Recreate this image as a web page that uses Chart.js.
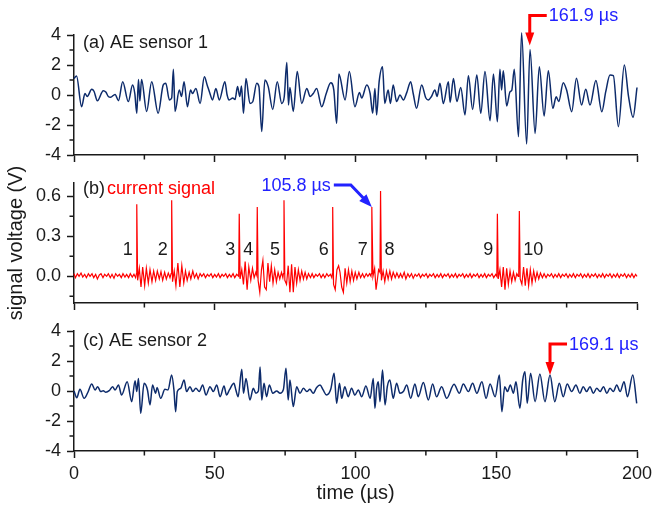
<!DOCTYPE html>
<html>
<head>
<meta charset="utf-8">
<script src="https://cdn.jsdelivr.net/npm/chart.js@4/dist/chart.umd.min.js"></script>
<style>
  body { margin: 0; background: #fff; }
  #wrap { position: relative; width: 668px; height: 505px; }
  canvas { position: absolute; left: 0; top: 0; }
</style>
</head>
<body>
<div id="wrap">
  <canvas id="panelA" width="668" height="505"></canvas>
  <canvas id="panelB" width="668" height="505"></canvas>
  <canvas id="panelC" width="668" height="505"></canvas>
</div>
<script>
// ---- data (time in µs, signal in V) ----
const timeTicks = [0, 50, 100, 150, 200];
const timeMinor = [25, 75, 125, 175];
const aeTicks = [-4, -2, 0, 2, 4];
const aeMinor = [-3, -1, 1, 3];
const currentTicks = [0, 0.3, 0.6];
const currentMinor = [-0.15, 0.15, 0.45];

// (a) AE sensor 1
const ae1 = [
  [0,1.1],[0.9,1.27],[2.7,-0.78],[3.9,0.1],[4.7,-0.1],[6.3,0.38],[7.1,0.25],[8.3,-0.38],[10.4,0.29],[11.3,0.2],
  [12.2,-0.1],[13.0,-0.15],[14.6,0.04],[15.8,-0.38],[17.3,0.89],[19.3,-0.44],[20.8,0.67],[21.6,0.1],[22.3,-1.22],[22.9,1.04],
  [23.4,-0.4],[24.0,1.04],[25.8,-1.1],[27.6,0.89],[29.9,-1.22],[31.7,0.67],[32.6,0.78],[33.9,-0.33],[34.7,-0.2],[35.3,1.71],
  [35.9,-1.1],[37.4,0.33],[38.2,-0.1],[39.1,0.89],[40.3,-0.78],[41.4,0.33],[42.1,0.1],[43.3,0.44],[44.8,-0.56],[46.3,1.22],
  [47.3,0.67],[48.3,0.1],[49.2,-0.33],[50.4,0.44],[51.6,-0.33],[53.6,0.89],[54.4,0.0],[55.1,-0.33],[56.4,-0.2],[57.2,-0.3],
  [58.1,0.56],[58.9,-0.1],[59.5,0.6],[60.2,-1.22],[61.1,1.1],[62.5,-0.56],[63.5,-0.45],[64.9,0.78],[65.7,0.56],[66.7,-2.44],
  [67.8,1.0],[69.0,0.56],[70.6,-0.96],[72.2,0.89],[73.8,-0.56],[74.7,-0.1],[75.6,2.16],[76.2,-0.67],[76.7,0.5],[77.9,-1.1],
  [79.3,1.56],[80.9,-0.56],[82.7,0.44],[83.9,-0.1],[85.0,0.1],[86.2,0.44],[88.0,-0.78],[89.6,0.1],[91.2,0.82],[92.3,0.33],
  [93.3,-1.89],[94.1,1.4],[96.3,-0.33],[97.8,1.56],[99.8,-0.78],[101.4,0.16],[102.2,-0.2],[104.0,0.67],[105.2,0.1],[106.1,-1.22],
  [106.9,0.44],[107.5,-1.33],[108.4,0.89],[109.6,1.89],[110.4,-0.56],[111.6,0.33],[112.4,-0.56],[113.4,0.67],[114.6,-0.44],[115.8,0.0],
  [117.0,-0.33],[118.2,0.16],[119.6,0.89],[120.5,0.1],[121.7,-0.89],[123.5,0.67],[125.0,-0.2],[125.9,-0.33],[127.0,-0.1],[128.2,0.33],
  [129.0,-0.1],[130.0,0.78],[131.2,-0.56],[133.0,0.89],[133.6,-0.5],[134.8,1.1],[136.0,-0.44],[137.4,0.5],[138.9,-1.33],[140.1,1.29],
  [141.6,-0.96],[143.1,1.33],[144.5,-1.22],[146.0,1.56],[147.8,-1.71],[149.0,1.4],[150.4,-1.78],[151.3,1.71],[151.9,0.33],[152.5,1.62],
  [153.7,-0.73],[154.9,0.22],[155.5,0.3],[156.4,1.71],[157.9,-2.78],[159.0,4.15],[160.8,-3.27],[162.0,3.04],[163.8,-2.56],[165.3,1.89],
  [167.0,-1.4],[168.5,1.62],[170.1,-0.89],[171.3,-0.11],[172.2,-0.44],[173.8,0.82],[175.0,0.33],[176.8,-1.11],[178.5,1.11],[180.3,-0.67],
  [181.8,0.38],[183.3,-0.67],[185.4,0.96],[187.5,-1.11],[188.9,0.22],[190.4,1.33],[191.6,1.29],[193.4,-2.11],[195.5,2.0],[197.0,-0.11],
  [198.6,-1.49],[200,0.5]
];

// (b) current signal
const current = [
  [0,0.02],[0.5,-0.01],[1.2,0.02],[1.8,0.0],[2.5,0.025],[3.1,-0.005],[3.8,0.015],[4.4,-0.01],[5.1,0.02],[5.7,0.0],
  [6.4,0.02],[7.0,-0.01],[7.7,0.015],[8.3,-0.02],[9.0,0.01],[9.6,0.02],[10.3,-0.01],[10.9,0.015],[11.6,0.0],[12.2,0.02],
  [12.9,-0.01],[13.5,0.015],[14.2,-0.015],[14.8,0.02],[15.5,0.0],[16.1,0.015],[16.8,-0.01],[17.4,0.02],[18.1,-0.005],[18.7,0.015],
  [19.4,-0.01],[20.0,0.02],[20.7,-0.005],[21.3,0.015],[21.9,-0.01],
  [22.2,0.02],[22.3,0.54],[22.6,-0.03],[23.2,0.06],[23.8,-0.08],[24.4,0.07],[25.1,-0.07],[25.7,0.06],[26.4,-0.05],[27.0,0.05],
  [27.7,-0.04],[28.3,0.04],[29.0,-0.03],[29.6,0.04],[30.3,-0.02],[30.9,0.035],[31.5,-0.03],[32.2,0.03],[32.8,-0.02],[33.5,0.025],[34.1,-0.01],
  [34.5,0.02],[34.7,0.57],[35.0,-0.04],[35.6,0.04],[36.2,-0.07],[36.9,0.1],[37.6,-0.08],[38.3,0.08],[39.0,-0.05],[39.6,0.04],
  [40.2,-0.03],[40.9,0.03],[41.5,-0.02],[42.2,0.04],[42.8,-0.01],[43.5,0.02],[44.1,-0.02],[44.8,0.02],[45.4,0.0],[46.1,0.02],
  [46.7,-0.01],[47.4,0.015],[48.0,0.0],[48.7,0.02],[49.3,-0.01],[50.0,0.015],[50.6,-0.005],[51.3,0.02],[51.9,-0.01],[52.6,0.015],
  [53.2,0.0],[53.9,0.02],[54.5,-0.01],[55.2,0.015],[55.8,-0.005],[56.5,0.02],[57.1,-0.01],[57.8,0.015],
  [58.5,0.0],[58.7,0.47],[59.0,-0.02],[59.6,0.05],[60.2,-0.06],[60.8,0.11],[61.5,-0.1],[62.1,0.07],[62.8,-0.03],[63.4,0.06],[64.0,-0.01],[64.6,0.03],
  [64.9,0.01],[65.1,0.52],[65.4,-0.03],[66.0,-0.12],[66.6,0.05],[67.1,0.12],[67.7,-0.08],[68.3,-0.1],[68.9,0.1],[69.5,-0.04],
  [70.1,0.08],[70.7,-0.05],[71.3,0.05],[71.9,-0.04],[72.5,0.03],[73.1,-0.02],[73.7,0.03],[74.2,-0.01],
  [74.4,0.02],[74.6,0.57],[74.9,-0.03],[75.5,-0.06],[76.1,0.08],[76.7,-0.12],[77.3,0.09],[77.9,-0.12],[78.5,0.07],[79.1,-0.05],
  [79.7,0.05],[80.3,-0.03],[80.9,0.04],[81.5,-0.02],[82.1,0.03],[82.7,-0.02],[83.3,0.02],[84.0,-0.01],[84.6,0.02],[85.2,-0.01],
  [85.9,0.015],[86.5,0.0],[87.2,0.02],[87.8,-0.01],[88.5,0.015],[89.1,-0.01],[89.8,0.02],[90.4,0.0],[91.1,0.015],[91.6,-0.01],
  [91.8,0.02],[91.9,0.52],[92.2,-0.06],[92.8,-0.1],[93.4,0.05],[94.0,0.08],[94.5,0.03],[95.1,-0.08],[95.7,-0.12],[96.3,0.06],
  [96.9,-0.05],[97.5,0.05],[98.1,-0.04],[98.7,0.04],[99.3,-0.03],[99.9,0.03],[100.5,-0.02],[101.2,0.03],[101.8,-0.01],[102.5,0.02],
  [103.1,-0.01],[103.8,0.02],[104.4,0.0],[105.0,0.02],[105.5,0.0],
  [105.6,0.02],[105.8,0.52],[106.2,0.0],[106.8,0.06],[107.3,-0.1],[107.8,-0.02],[108.2,0.05],
  [108.7,0.03],[108.9,0.64],[109.2,-0.03],[109.8,0.04],[110.4,-0.04],[111.0,0.04],[111.6,-0.02],[112.2,0.04],[112.8,-0.02],[113.4,0.03],
  [114.1,-0.01],[114.7,0.025],[115.4,-0.01],[116.0,0.02],[116.6,-0.01],[117.3,0.03],[117.9,-0.02],[118.6,0.02],[119.2,-0.005],[119.9,0.02],
  [120.5,-0.015],[121.2,0.015],[121.8,0.0],[122.5,0.02],[123.1,-0.01],[123.8,0.015],[124.4,0.0],[125.1,0.02],[125.7,-0.01],[126.4,0.015],
  [127.0,0.0],[127.7,0.02],[128.3,-0.01],[129.0,0.015],[129.6,-0.005],[130.3,0.02],[130.9,-0.01],[131.6,0.015],[132.2,0.0],[132.9,0.02],
  [133.5,-0.01],[134.2,0.015],[134.8,-0.005],[135.5,0.02],[136.1,-0.01],[136.8,0.015],[137.4,0.0],[138.1,0.02],[138.7,-0.01],[139.4,0.015],
  [140.0,-0.005],[140.7,0.02],[141.3,-0.01],[142.0,0.015],[142.6,0.0],[143.3,0.02],[143.9,-0.01],[144.6,0.015],[145.2,-0.005],[145.9,0.02],
  [146.5,-0.01],[147.2,0.015],[147.8,0.0],[148.5,0.02],[149.1,-0.01],[149.8,0.015],
  [150.2,0.0],[150.4,0.47],[150.7,-0.02],[151.3,0.05],[151.9,-0.08],[152.5,0.07],[153.1,-0.1],[153.7,0.06],[154.3,-0.06],[154.9,0.04],
  [155.5,-0.04],[156.1,0.03],[156.7,-0.03],[157.3,0.02],[157.8,0.0],
  [158.0,0.02],[158.2,0.49],[158.5,-0.02],[159.1,-0.06],[159.7,0.07],[160.3,-0.07],[160.9,0.06],[161.5,-0.07],[162.1,0.05],[162.7,-0.05],
  [163.3,0.04],[163.9,-0.03],[164.5,0.03],[165.1,-0.02],[165.7,0.025],[166.4,-0.01],[167.0,0.02],[167.7,-0.01],[168.3,0.015],[169.0,0.0],
  [169.6,0.02],[170.3,-0.01],[170.9,0.015],[171.6,-0.005],[172.2,0.02],[172.9,-0.01],[173.5,0.015],[174.2,0.0],[174.8,0.02],[175.5,-0.01],
  [176.1,0.015],[176.8,-0.005],[177.4,0.02],[178.1,-0.01],[178.7,0.015],[179.4,0.0],[180.0,0.02],[180.7,-0.01],[181.3,0.015],[182.0,-0.005],
  [182.6,0.02],[183.3,-0.01],[183.9,0.015],[184.6,0.0],[185.2,0.02],[185.9,-0.01],[186.5,0.015],[187.2,-0.005],[187.8,0.02],[188.5,-0.01],
  [189.1,0.015],[189.8,0.0],[190.4,0.02],[191.1,-0.01],[191.7,0.015],[192.4,-0.005],[193.0,0.02],[193.7,-0.01],[194.3,0.015],[195.0,0.0],
  [195.6,0.02],[196.3,-0.01],[196.9,0.015],[197.6,-0.005],[198.2,0.02],[198.9,-0.01],[199.5,0.015],[200,0.0]
];

// (c) AE sensor 2
const ae2 = [
  [0,0.0],[1.0,-0.45],[2.1,0.11],[3.6,-0.49],[4.9,-0.1],[6.3,0.47],[7.5,0.07],[8.4,0.29],[9.5,-0.04],[10.4,0.02],
  [11.3,-0.08],[12.5,0.02],[13.7,0.29],[14.6,0.07],[15.8,0.4],[16.9,-0.27],[18.9,0.62],[20.5,-0.71],[21.7,0.69],[22.3,-0.04],
  [22.9,0.84],[23.7,-1.49],[24.9,0.51],[26.1,0.07],[27.0,-0.93],[27.9,0.4],[29.0,-0.15],[29.5,0.24],[30.8,-0.49],[32.3,0.11],
  [33.4,0.07],[34.7,1.07],[35.5,0.07],[36.1,-1.38],[36.7,-0.04],[37.9,0.18],[39.1,0.73],[40.0,-0.04],[41.2,0.29],[42.2,-0.04],
  [43.3,0.18],[44.5,-0.04],[45.7,0.4],[46.9,-0.27],[48.3,0.29],[49.5,-0.04],[50.7,0.4],[51.9,-0.38],[53.3,0.33],[54.2,-0.27],
  [55.2,0.07],[56.8,0.51],[57.5,0.07],[58.3,-0.38],[59.6,1.45],[60.2,-0.15],[61.1,0.84],[62.5,-0.6],[63.7,0.18],[64.6,-0.15],
  [65.5,0.0],[66.1,1.6],[66.7,-0.6],[67.5,0.51],[68.4,-0.38],[69.4,0.4],[70.6,-0.15],[72.0,0.0],[73.2,-0.15],[74.4,0.11],
  [75.3,1.51],[76.1,-0.6],[76.7,0.73],[77.9,-1.04],[79.1,0.29],[80.3,-0.15],[81.5,0.18],[82.7,-0.04],[83.8,0.11],[85.0,-0.15],
  [86.2,0.24],[87.4,0.4],[88.5,0.07],[89.7,-0.27],[91.2,0.11],[92.4,1.18],[93.3,-0.82],[94.3,0.51],[95.1,-0.49],[96.2,0.29],
  [97.4,-0.38],[98.6,0.18],[99.8,-0.27],[101.0,0.07],[102.2,-0.38],[103.7,0.33],[105.2,-0.49],[106.3,0.84],[106.9,-1.15],[107.5,0.18],
  [108.1,0.62],[108.7,-0.71],[109.6,1.4],[110.5,-0.93],[111.3,0.29],[112.2,0.73],[113.4,-0.49],[114.6,0.51],[115.8,-0.15],[117.0,-0.04],
  [118.2,0.4],[119.6,-0.49],[121.1,0.47],[122.3,-0.38],[124.1,0.56],[125.9,-0.6],[127.4,0.47],[128.8,-0.38],[130.6,0.29],[132.4,-0.49],
  [135.0,0.45],[136.9,-0.15],[138.3,0.47],[140.1,-0.04],[141.6,0.51],[143.1,-0.15],[144.9,0.62],[146.4,-0.49],[147.8,0.47],[149.6,-0.38],
  [151.1,1.07],[152.0,-1.38],[153.0,0.29],[154.0,-0.04],[155.0,0.4],[156.1,-0.15],[157.0,0.62],[158.4,-1.15],[159.4,0.73],[160.2,1.29],
  [161.0,-0.82],[162.2,1.18],[163.8,-0.71],[165.5,1.14],[167.3,-0.71],[169.1,1.07],[170.8,-0.71],[172.4,0.51],[173.8,-0.38],[175.2,0.47],
  [176.8,-0.04],[178.3,0.4],[179.7,-0.15],[180.9,0.29],[182.1,-0.04],[183.3,0.29],[184.5,-0.15],[185.7,0.18],[186.9,-0.04],[188.1,0.29],
  [189.3,-0.15],[190.4,0.18],[191.6,-0.04],[192.8,0.4],[194.0,-0.04],[195.4,0.62],[196.6,-0.38],[198.5,1.07],[199.9,-0.82]
];

// numbered current pulses and marked arrival times
const pulseTimes = [22.3, 34.7, 58.7, 65.1, 74.6, 91.9, 105.8, 108.9, 150.4, 158.2];
const pulseNames = ['1', '2', '3', '4', '5', '6', '7', '8', '9', '10'];
const pulseLabelSide = ['left', 'left', 'left', 'left', 'left', 'left', 'left', 'right', 'left', 'right'];
const arrivalTimes = [161.9, 105.8, 169.1];
const arrivalLabels = ['161.9 µs', '105.8 µs', '169.1 µs'];

// ---- drawing ----
const FONT = '"Liberation Sans", Arial, Helvetica, sans-serif';
const INK = '#1a1a1a';
const NAVY = '#0d2b6b';
const RED = '#ff0000';
const BLUE = '#2222ff';
Chart.defaults.font.family = FONT;
Chart.defaults.color = INK;

function nearestY(series, t) {
  let best = series[0];
  series.forEach(p => { if (Math.abs(p[0] - t) < Math.abs(best[0] - t)) best = p; });
  return best[1];
}

function drawArrow(ctx, pts, color, headLen, headHalf) {
  const n = pts.length;
  const [tx, ty] = pts[n - 1];
  const [px, py] = pts[n - 2];
  const len = Math.hypot(tx - px, ty - py);
  const ux = (tx - px) / len, uy = (ty - py) / len;
  const bx = tx - ux * headLen, by = ty - uy * headLen;
  ctx.strokeStyle = color;
  ctx.fillStyle = color;
  ctx.lineWidth = 3;
  ctx.lineJoin = 'miter';
  ctx.beginPath();
  ctx.moveTo(pts[0][0], pts[0][1]);
  for (let i = 1; i < n - 1; i++) ctx.lineTo(pts[i][0], pts[i][1]);
  ctx.lineTo(bx + ux, by + uy);
  ctx.stroke();
  ctx.beginPath();
  ctx.moveTo(tx, ty);
  ctx.lineTo(bx - uy * headHalf, by + ux * headHalf);
  ctx.lineTo(bx + uy * headHalf, by - ux * headHalf);
  ctx.closePath();
  ctx.fill();
}

const decorPlugin = {
  id: 'decor',
  afterDatasetsDraw(chart, args, opts) {
    const ctx = chart.ctx;
    const area = chart.chartArea;
    const xs = chart.scales.x, ys = chart.scales.y;
    ctx.save();

    // minor ticks (shorter than the major ones)
    ctx.strokeStyle = INK;
    ctx.lineWidth = 1.5;
    ctx.beginPath();
    opts.minorX.forEach(v => {
      const px = xs.getPixelForValue(v);
      ctx.moveTo(px, area.bottom); ctx.lineTo(px, area.bottom + 4.5);
    });
    opts.minorY.forEach(v => {
      const py = ys.getPixelForValue(v);
      ctx.moveTo(area.left, py); ctx.lineTo(area.left - 4.5, py);
    });
    ctx.stroke();

    // panel tag and title
    ctx.font = '18px ' + FONT;
    ctx.textBaseline = 'middle';
    ctx.textAlign = 'left';
    ctx.fillStyle = INK;
    ctx.fillText(opts.tag, area.left + 9, area.top + opts.labelDy);
    ctx.fillStyle = opts.titleColor;
    ctx.fillText(opts.title, area.left + opts.titleDx, area.top + opts.labelDy);

    // pulse numbers
    if (opts.pulses) {
      ctx.fillStyle = INK;
      const py = ys.getPixelForValue(opts.pulses.level);
      pulseTimes.forEach((t, i) => {
        const px = xs.getPixelForValue(t);
        const right = pulseLabelSide[i] === 'right';
        ctx.textAlign = right ? 'left' : 'right';
        ctx.fillText(pulseNames[i], px + (right ? 4 : -4), py);
      });
    }

    // arrival arrow
    const a = opts.arrow;
    const t = arrivalTimes[a.index];
    const tip = [xs.getPixelForValue(t), ys.getPixelForValue(nearestY(a.series, t)) - a.gap];
    const pts = a.path.map(([dx, dy]) => [tip[0] + dx, tip[1] + dy]).concat([tip]);
    drawArrow(ctx, pts, a.color, a.headLen, a.headHalf);
    ctx.fillStyle = BLUE;
    ctx.textAlign = a.textAlign;
    ctx.fillText(arrivalLabels[a.index], pts[0][0] + a.textDx, pts[0][1] + 1);

    ctx.restore();
  }
};

function makePanel(id, series, cfg) {
  return new Chart(document.getElementById(id), {
    type: 'line',
    data: {
      datasets: [{
        data: series.map(([x, y]) => ({ x, y })),
        borderColor: cfg.color,
        borderWidth: cfg.lineWidth,
        pointRadius: 0,
        fill: false,
        tension: 0,
        cubicInterpolationMode: cfg.smooth ? 'monotone' : 'default',
        clip: false
      }]
    },
    options: {
      responsive: false,
      animation: false,
      events: [],
      layout: { padding: { left: 0, right: 31, top: cfg.top, bottom: cfg.bottom } },
      plugins: {
        legend: { display: false },
        tooltip: { enabled: false },
        decor: cfg.decor
      },
      scales: {
        x: {
          type: 'linear',
          min: 0,
          max: 200,
          afterBuildTicks: s => { s.ticks = timeTicks.map(v => ({ value: v })); },
          afterFit: s => { s.height = cfg.xHeight; },
          border: { display: true, color: INK, width: 1.5 },
          grid: { display: true, drawOnChartArea: false, drawTicks: true, tickLength: 7, tickWidth: 1.5, tickColor: INK },
          ticks: { display: cfg.showTime, padding: 5, color: INK, font: { size: 18 }, maxRotation: 0 },
          title: { display: cfg.showTime, text: 'time (µs)', color: INK, font: { size: 20 }, padding: { top: 0, bottom: 0 } }
        },
        y: {
          type: 'linear',
          min: cfg.yMin,
          max: cfg.yMax,
          afterBuildTicks: s => { s.ticks = cfg.yTicks.map(v => ({ value: v })); },
          afterFit: s => { s.width = 74; },
          border: { display: true, color: INK, width: 1.5 },
          grid: { display: true, drawOnChartArea: false, drawTicks: true, tickLength: 7, tickWidth: 1.5, tickColor: INK },
          ticks: { padding: 6, color: INK, font: { size: 18 }, callback: cfg.yFormat },
          title: { display: cfg.yTitle, text: 'signal voltage (V)', color: INK, font: { size: 20 }, padding: { top: 4, bottom: 0 } }
        }
      }
    },
    plugins: [decorPlugin]
  });
}

makePanel('panelA', ae1, {
  color: NAVY, lineWidth: 1.5, smooth: true,
  top: 35, bottom: 330, xHeight: 20, showTime: false,
  yMin: -4, yMax: 4, yTicks: aeTicks, yFormat: v => String(v), yTitle: false,
  decor: {
    tag: '(a)', title: 'AE sensor 1', titleColor: INK, titleDx: 36, labelDy: 8,
    minorX: timeMinor, minorY: aeMinor,
    arrow: { index: 0, series: ae1, gap: 4, color: RED, path: [[17, -30], [0, -30]], headLen: 13, headHalf: 4.5, textAlign: 'left', textDx: 2 }
  }
});

makePanel('panelB', current, {
  color: RED, lineWidth: 1.2, smooth: false,
  top: 183, bottom: 182, xHeight: 20, showTime: false,
  yMin: -0.2, yMax: 0.7, yTicks: currentTicks, yFormat: v => v.toFixed(1), yTitle: true,
  decor: {
    tag: '(b)', title: 'current signal', titleColor: RED, titleDx: 33, labelDy: 6,
    minorX: timeMinor, minorY: currentMinor,
    pulses: { level: 0.2 },
    arrow: { index: 1, series: current, gap: 0, color: BLUE, path: [[-38, -22], [-21, -22]], headLen: 13, headHalf: 5, textAlign: 'right', textDx: -3 }
  }
});

makePanel('panelC', ae2, {
  color: NAVY, lineWidth: 1.5, smooth: true,
  top: 331, bottom: 0, xHeight: 54, showTime: true,
  yMin: -4, yMax: 4, yTicks: aeTicks, yFormat: v => String(v), yTitle: false,
  decor: {
    tag: '(c)', title: 'AE sensor 2', titleColor: INK, titleDx: 35, labelDy: 10,
    minorX: timeMinor, minorY: aeMinor,
    arrow: { index: 2, series: ae2, gap: 0, color: RED, path: [[17, -31], [0, -31]], headLen: 13, headHalf: 4.5, textAlign: 'left', textDx: 2 }
  }
});
</script>
</body>
</html>
